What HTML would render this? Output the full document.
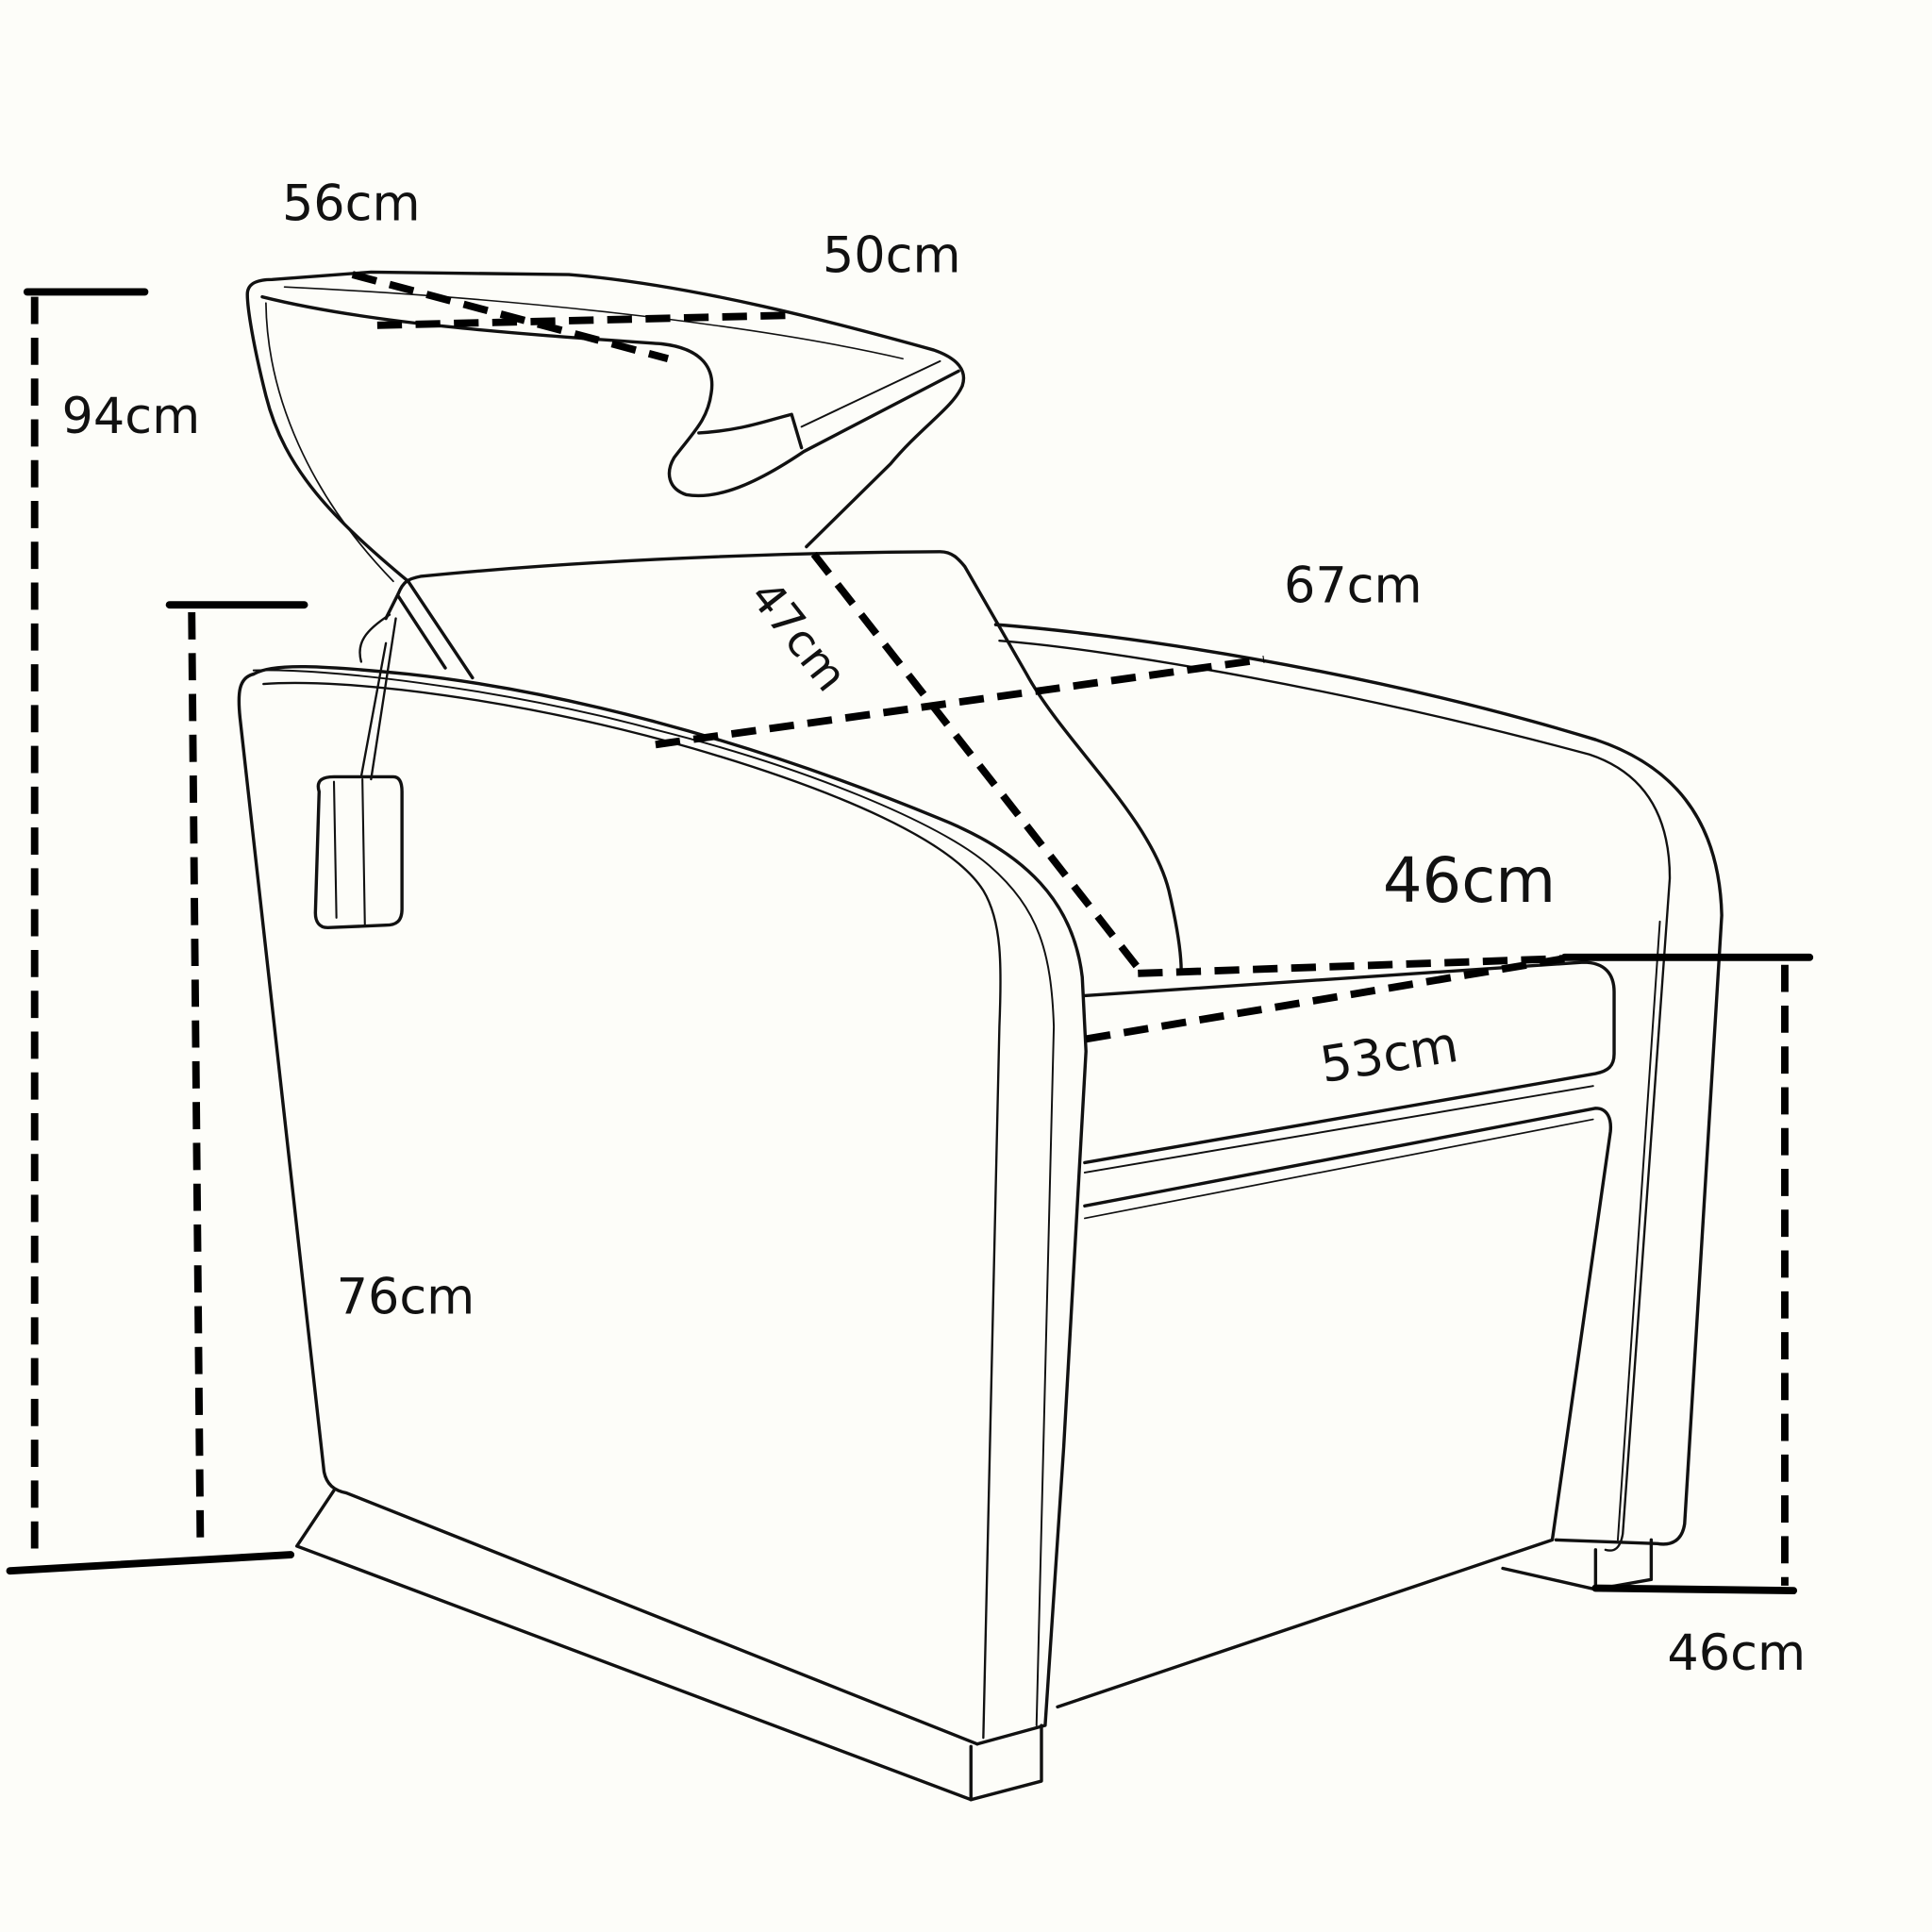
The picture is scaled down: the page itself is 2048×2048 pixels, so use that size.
<!DOCTYPE html>
<html><head><meta charset="utf-8"><style>
html,body{margin:0;padding:0;background:#fdfdf9;}
svg{display:block;width:2048px;height:2048px;}
text{font-family:"DejaVu Sans","Liberation Sans",sans-serif;fill:#111;}
</style></head><body>
<svg viewBox="0 0 1562 1562" xmlns="http://www.w3.org/2000/svg">
<rect width="1562" height="1562" fill="#fdfdf9"/>
<g fill="none" stroke="#111" stroke-width="2.6" stroke-linejoin="round" stroke-linecap="round">
<!-- basin -->
<path d="M330,470 C270,420 230,380 215,320 C205,280 200,250 200,238 C200,228 210,226 220,226 L300,220 L460,222 C560,230 680,262 755,283 C775,290 782,300 778,312 C770,330 745,345 720,375 L652,442"/>
<path d="M215,245 C216,320 250,400 318,470" stroke-width="1.3"/>
<path d="M212,240 C300,262 420,270 535,278 C570,282 578,300 575,318 C572,340 560,350 545,370 C538,382 540,395 555,400 C580,404 610,392 650,365 L775,300"/>
<path d="M565,350 C600,348 620,340 640,335 L648,362"/>
<path d="M648,345 L760,292" stroke-width="1.5"/>
<path d="M230,232 C400,240 600,260 730,290" stroke-width="1.2"/>
<!-- backrest -->
<path d="M322,480 C326,470 330,468 340,466 C450,455 600,447 760,446 C770,446 775,452 780,458 L830,545 C860,600 930,660 945,720 C952,750 955,770 955,785"/>
<path d="M322,480 L312,500 M330,470 L382,548 M322,482 L360,540" />
<!-- sprayer hose & handle -->
<path d="M315,497 C295,510 288,520 292,535 M320,500 L300,630 M312,520 L292,628" stroke-width="1.8"/>
<path d="M258,640 C255,630 262,628 270,628 L318,628 C324,628 325,635 325,640 L325,735 C325,745 320,748 312,748 L265,750 C258,750 255,745 255,738 Z"/>
<path d="M270,632 L272,742 M293,630 L295,748" stroke-width="1.6"/>
<!-- left armrest -->
<path d="M205,545 C193,548 192,560 194,580 L262,1190 C264,1200 270,1205 280,1207 L790,1410"/>
<path d="M205,545 C220,536 260,538 330,545 C450,558 600,596 760,662 C830,690 868,730 875,790 L878,850 L860,1170 L845,1395 L790,1410"/>
<path d="M213,553 C280,548 420,565 560,605 C680,640 770,680 795,720 C810,745 810,780 808,830 L795,1405" stroke-width="1.8"/>
<path d="M205,542 C260,540 400,555 530,590 C650,620 760,665 800,700 C840,735 850,770 852,830 L838,1395" stroke-width="1.5"/>
<!-- base -->
<path d="M270,1205 L240,1250 L785,1455 L842,1440 L842,1395"/>
<path d="M785,1455 L785,1412"/>
<!-- right armrest -->
<path d="M805,505 C900,512 1100,540 1290,598 C1350,618 1390,660 1392,740 L1362,1232 C1360,1245 1352,1250 1340,1248 L1258,1245"/>
<path d="M808,518 C900,525 1100,560 1285,610 C1330,625 1350,660 1350,710 L1312,1240 C1310,1252 1305,1255 1298,1253" stroke-width="1.8"/>
<path d="M1342,745 L1308,1245" stroke-width="1.5"/>
<path d="M1335,1245 L1335,1277 L1290,1285 L1215,1268"/>
<path d="M1290,1253 L1290,1285"/>
<!-- seat cushion -->
<path d="M877,805 L1280,778 C1298,778 1305,788 1305,802 L1305,852 C1305,862 1300,866 1290,868 L877,940"/>
<path d="M877,948 L1288,878" stroke-width="1.5"/>
<path d="M877,975 L1290,896 C1300,896 1303,905 1302,915 L1255,1245 L855,1380"/>
<path d="M877,985 L1288,905" stroke-width="1.3"/>
</g>
<!-- dimension lines -->
<g stroke="#000" stroke-width="6" fill="none" stroke-linecap="round">
<line x1="22" y1="236" x2="117" y2="236"/>
<line x1="28" y1="240" x2="28" y2="1262" stroke-dasharray="22 11" stroke-linecap="butt"/>
<line x1="8" y1="1270" x2="235" y2="1257"/>
<line x1="137" y1="489" x2="246" y2="489"/>
<line x1="155" y1="495" x2="162" y2="1250" stroke-dasharray="22 11" stroke-linecap="butt"/>
<line x1="1265" y1="774" x2="1463" y2="774"/>
<line x1="1443" y1="780" x2="1443" y2="1282" stroke-dasharray="22 11" stroke-linecap="butt"/>
<line x1="1290" y1="1284" x2="1450" y2="1286"/>
</g>
<g stroke="#000" stroke-width="6" fill="none" stroke-dasharray="20 11">
<line x1="285" y1="222" x2="540" y2="290"/>
<line x1="305" y1="263" x2="635" y2="255"/>
<line x1="658" y1="448" x2="922" y2="785"/>
<line x1="530" y1="602" x2="1022" y2="533"/>
<line x1="920" y1="787" x2="1265" y2="775"/>
<line x1="878" y1="840" x2="1265" y2="775"/>
</g>
<g font-size="40">
<text x="228" y="178">56cm</text>
<text x="665" y="220">50cm</text>
<text x="50" y="350">94cm</text>
<text x="1038" y="487">67cm</text>
<text x="1118" y="729" font-size="50">46cm</text>
<text x="272" y="1062">76cm</text>
<text x="1348" y="1350">46cm</text>
<text x="0" y="0" transform="translate(1070,875) rotate(-9)">53cm</text>
<text x="0" y="0" transform="translate(605,482) rotate(52)" font-size="36">47cm</text>
</g>
</svg>
</body></html>
